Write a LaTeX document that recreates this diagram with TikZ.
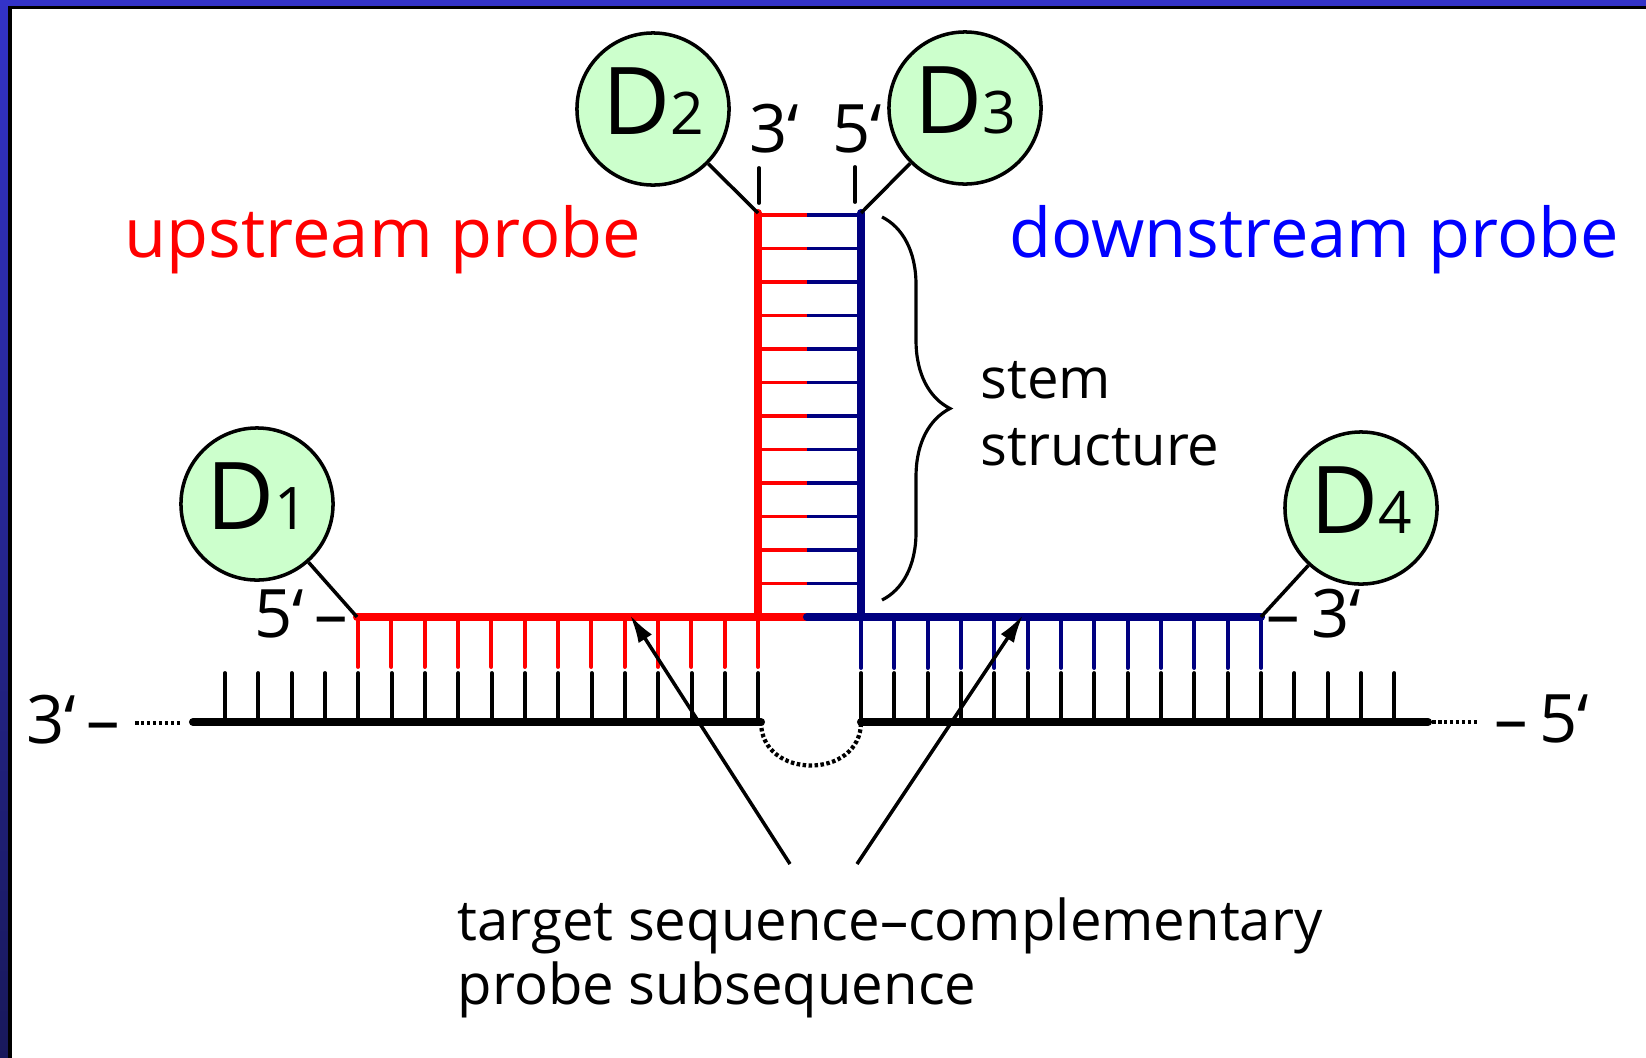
\documentclass[tikz,border=0pt]{standalone}
\usepackage{fontspec}
\setmainfont{Open Sans}
\usepackage{tikz}
\usetikzlibrary{positioning}
\usetikzlibrary{decorations.pathreplacing}
\usetikzlibrary{arrows.meta}

\definecolor{probered}{RGB}{255,0,0}
\definecolor{probeblue}{RGB}{0,0,128}
\definecolor{labelblue}{RGB}{0,0,255}
\definecolor{dyegreen}{RGB}{204,255,204}
\definecolor{frametop}{RGB}{51,51,200}
\definecolor{framebot}{RGB}{24,24,90}

\newcommand{\dyelabel}[1]{{\fontsize{26.6}{30}\selectfont D}{\fontsize{16.7}{20}\selectfont #1}}

\begin{document}
\begin{tikzpicture}[x=0.01cm, y=-0.01cm, every node/.style={inner sep=0pt},
    dye/.style={circle, draw, line width=1pt, fill=dyegreen, minimum size=1.52cm, inner sep=0pt, text depth=0.16cm},
    big/.style={font=\fontsize{19}{23}\selectfont},
    title/.style={font=\fontsize{19.5}{23}\selectfont},
    small/.style={font=\fontsize{16}{19}\selectfont},
    strand/.style={line width=2.3pt, line cap=round},
    rung/.style={line width=1.1pt},
    tick/.style={line width=1.1pt, line cap=round},
    backbone/.style={line width=2.3pt, line cap=round},
    gapline/.style={line width=1.2pt, dash pattern=on 1pt off 0.7pt},
    link/.style={line width=1pt},
    pointer/.style={line width=1pt, -{Latex[length=8pt, width=4.5pt]}}]
        % Slide frame and page size
        \useasboundingbox (0,0) rectangle (1646,1057);
        \fill[white] (-10,-10) rectangle (1660,1070);
        \shade[top color=frametop, bottom color=framebot] (-10,-10) rectangle (8,1070);
        \fill[frametop] (-10,-10) rectangle (1660,6);
        \draw[line width=1pt] (10,1070) -- (10,7.5) -- (1660,7.5);

        % Define the tick spacing
        \def\gap{33.33}

        % Probe ends and corners
        \coordinate (up5) at (357,617);
        \coordinate (up3) at (758,213);
        \coordinate (upcorner) at (758,617);
        \coordinate (mid) at (807,617);
        \coordinate (dn5) at (861,213);
        \coordinate (dncorner) at (861,617);
        \coordinate (dn3) at (1261,617);

        % Draw the stem rungs
        \foreach \k in {0,...,11}
        {
          \draw[rung, probered] (758,{215+33.5*\k}) -- (807,{215+33.5*\k});
          \draw[rung, probeblue] (807,{215+33.5*\k}) -- (861,{215+33.5*\k});
        }

        % Draw the probe ticks
        \foreach \i in {0,...,12}
        {
          \draw[tick, probered] ({358+\gap*\i},617) -- ({358+\gap*\i},667);
          \draw[tick, probeblue] ({861+\gap*\i},617) -- ({861+\gap*\i},668);
        }

        % Draw the probes
        \draw[strand, probered] (up5) -- (mid);
        \draw[strand, probered] (up3) -- (upcorner);
        \draw[strand, probeblue] (mid) -- (dn3);
        \draw[strand, probeblue] (dn5) -- (dncorner);

        % Draw the target ticks
        \foreach \i in {0,...,16}
        {
          \draw[tick] ({225+\gap*\i},673) -- ({225+\gap*\i},722);
          \draw[tick] ({861+\gap*\i},673) -- ({861+\gap*\i},722);
        }

        % Draw the target strand
        \coordinate (tL) at (193,722);
        \coordinate (tLend) at (761,722);
        \coordinate (tRstart) at (861,722);
        \coordinate (tR) at (1428,722);
        \coordinate (dotL) at (135,723);
        \coordinate (dotR) at (1479,722);
        \draw[backbone] (tL) -- (tLend);
        \draw[backbone] (tRstart) -- (tR);
        \draw[gapline] (tLend) .. controls (761,780) and (861,780) .. (tRstart);
        \draw[gapline] (dotL) -- (182,723);
        \draw[gapline] (1432,722) -- (dotR);

        % Draw the dyes
        \node[dye] (D1) at (257,504) {\dyelabel{1}};
        \node[dye] (D2) at (653,109) {\dyelabel{2}};
        \node[dye] (D3) at (965,108) {\dyelabel{3}};
        \node[dye] (D4) at (1361,508) {\dyelabel{4}};
        \draw[link] (D1) -- (up5);
        \draw[link] (D2) -- (up3);
        \draw[link] (D3) -- (dn5);
        \draw[link] (D4) -- (dn3);

        % End labels
        \node[big, anchor=base] (s3) at (774,152) {3‘};
        \node[big, anchor=base] (s5) at (857,152) {5‘};
        \draw[tick] (759,168) -- (759,203);
        \draw[tick] (855,167) -- (855,202);
        \node[big, anchor=base east] (p5) at (349,637) {5‘\,–};
        \node[big, anchor=base west] (p3) at (1266,637) {–\,3‘};
        \node[big, anchor=base east] (t3) at (121,743) {3‘\,–};
        \node[big, anchor=base west] (t5) at (1494,742) {–\,5‘};

        % Probe names
        \node[title, text=probered, anchor=base] (upname) at (383,257) {upstream probe};
        \node[title, text=labelblue, anchor=base] (dnname) at (1314,257) {downstream probe};

        % Stem brace
        \draw[line width=0.9pt, decorate, decoration={brace, amplitude=0.68cm}] (882,217) -- (882,600);
        \node[small, anchor=base west] (stemtxt) at (980,398) {stem};
        \node[small, anchor=base west] (structtxt) at (980,465) {structure};

        % Complementary part
        \node[small, anchor=base west] (tgt1) at (457,940) {target sequence–complementary};
        \node[small, anchor=base west] (tgt2) at (457,1004) {probe subsequence};
        \coordinate (aLtail) at (790,864);
        \coordinate (aLhead) at (630,615);
        \coordinate (aRtail) at (857,864);
        \coordinate (aRhead) at (1023,615);
        \draw[pointer] (aLtail) -- (aLhead);
        \draw[pointer] (aRtail) -- (aRhead);
\end{tikzpicture}
\end{document}
